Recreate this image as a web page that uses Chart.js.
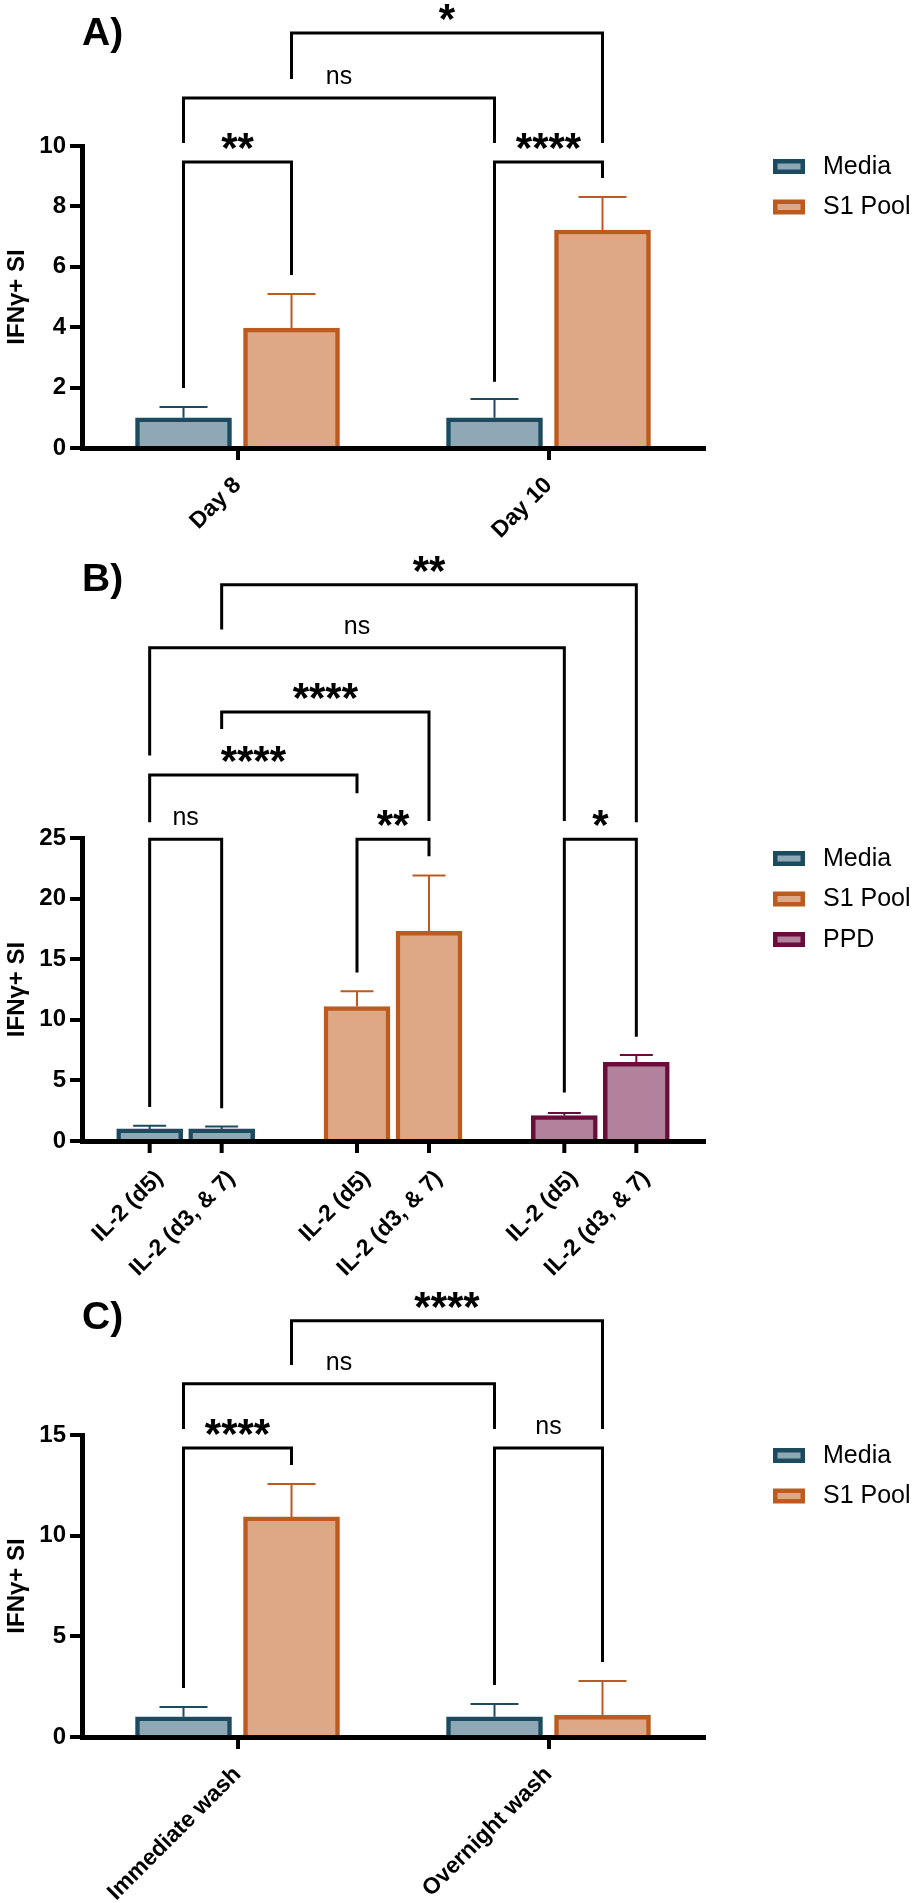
<!DOCTYPE html>
<html><head><meta charset="utf-8">
<script src="https://cdn.jsdelivr.net/npm/chart.js@4.4.1/dist/chart.umd.min.js"></script>
<style>
html,body{margin:0;padding:0;background:#fff;}
#wrap{position:relative;width:916px;height:1903px;overflow:hidden;background:#fff;}
canvas{position:absolute;left:0;}
</style></head>
<body><div id="wrap">
<canvas id="cA" width="916" height="550" style="top:0px;width:916px;height:550px"></canvas>
<canvas id="cB" width="916" height="738" style="top:550px;width:916px;height:738px"></canvas>
<canvas id="cC" width="916" height="615" style="top:1288px;width:916px;height:615px"></canvas>
</div>
<script>
// ---------------- DATA ----------------
// Panel A
const categoriesA = ['Day 8', 'Day 10'];
const mediaA = [1.0, 1.0];
const mediaErrA = [0.36, 0.62];
const s1A = [3.97, 7.22];
const s1ErrA = [1.13, 1.09];
const yTicksA = [0, 2, 4, 6, 8, 10];
// brackets: [datasetIndex, dataIndex] ends, bracket level, leg end levels, label
const bracketsA = [
  {a: [0, 0], b: [1, 0], level: 9.47, legs: [1.99, 5.73], text: '**'},
  {a: [0, 1], b: [1, 1], level: 9.47, legs: [2.19, 8.94], text: '****'},
  {a: [0, 0], b: [0, 1], level: 11.59, legs: [10.1, 10.1], text: 'ns'},
  {a: [1, 0], b: [1, 1], level: 13.74, legs: [12.22, 10.1], text: '*'}
];

// Panel B
const groupsB = ['Media', 'S1 Pool', 'PPD'];
const il2LabelsB = ['IL-2 (d5)', 'IL-2 (d3, & 7)'];
const il2d5B = [1.0, 11.1, 2.1];
const il2d5ErrB = [0.25, 1.25, 0.2];
const il2d37B = [1.0, 17.3, 6.5];
const il2d37ErrB = [0.2, 4.6, 0.6];
const yTicksB = [0, 5, 10, 15, 20, 25];
const bracketsB = [
  {a: [0, 0], b: [1, 0], level: 24.9, legs: [2.8, 2.7], text: 'ns'},
  {a: [0, 1], b: [1, 1], level: 24.9, legs: [13.9, 23.5], text: '**'},
  {a: [0, 2], b: [1, 2], level: 24.9, legs: [4.0, 8.6], text: '*'},
  {a: [0, 0], b: [0, 1], level: 30.2, legs: [26.3, 28.7], text: '****'},
  {a: [1, 0], b: [1, 1], level: 35.4, legs: [34.0, 26.4], text: '****'},
  {a: [0, 0], b: [0, 2], level: 40.7, legs: [31.8, 26.4], text: 'ns'},
  {a: [1, 0], b: [1, 2], level: 45.9, legs: [42.2, 26.3], text: '**'}
];

// Panel C
const categoriesC = ['Immediate wash', 'Overnight wash'];
const mediaC = [1.0, 1.0];
const mediaErrC = [0.49, 0.64];
const s1C = [10.93, 1.08];
const s1ErrC = [1.64, 1.7];
const yTicksC = [0, 5, 10, 15];
const bracketsC = [
  {a: [0, 0], b: [1, 0], level: 14.36, legs: [2.43, 13.51], text: '****'},
  {a: [0, 1], b: [1, 1], level: 14.36, legs: [2.58, 3.73], text: 'ns'},
  {a: [0, 0], b: [0, 1], level: 17.54, legs: [15.3, 15.3], text: 'ns'},
  {a: [1, 0], b: [1, 1], level: 20.67, legs: [18.48, 15.3], text: '****'}
];

const yTitle = 'IFNγ+ SI';

// ---------------- STYLE ----------------
const FONT = '"Liberation Sans", Arial, Helvetica, sans-serif';
Chart.defaults.font.family = FONT;
Chart.defaults.color = '#000';
const COL = {
  media: {fill: '#8ea8b5', line: '#1c4b5f'},
  s1: {fill: '#dea886', line: '#bd5b1e'},
  ppd: {fill: '#b2819b', line: '#6a0d3b'}
};
const XFONT = 23, XPAD = 12;

const gpPlugin = {
  id: 'gp',
  afterDatasetsDraw(chart) {
    const ctx = chart.ctx, ys = chart.scales.y;
    chart.data.datasets.forEach((ds, di) => {
      if (!ds.errors) return;
      chart.getDatasetMeta(di).data.forEach((bar, i) => {
        const v = ds.data[i], e = ds.errors[i];
        if (v == null || e == null) return;
        const col = Array.isArray(ds.borderColor) ? ds.borderColor[i] : ds.borderColor;
        const half = bar.width / 4;
        const y0 = ys.getPixelForValue(v), y1 = ys.getPixelForValue(v + e);
        ctx.save();
        ctx.strokeStyle = col; ctx.lineWidth = 2;
        ctx.beginPath();
        ctx.moveTo(bar.x, y0); ctx.lineTo(bar.x, y1);
        ctx.moveTo(bar.x - half, y1); ctx.lineTo(bar.x + half, y1);
        ctx.stroke();
        ctx.restore();
      });
    });
  },
  afterDraw(chart, args, opts) {
    const ctx = chart.ctx, ys = chart.scales.y, area = chart.chartArea;
    const px = ref => chart.getDatasetMeta(ref[0]).data[ref[1]].x;
    // per-bar axis labels (panel B)
    if (opts.barLabels) {
      ctx.save();
      const lh = XFONT * 1.2;
      ctx.font = 'bold ' + XFONT + 'px ' + FONT;
      ctx.fillStyle = '#000'; ctx.strokeStyle = '#000';
      chart.data.datasets.forEach((ds, di) => {
        chart.getDatasetMeta(di).data.forEach(bar => {
          ctx.lineWidth = 4;
          ctx.beginPath();
          ctx.moveTo(bar.x, area.bottom); ctx.lineTo(bar.x, area.bottom + 12);
          ctx.stroke();
          ctx.save();
          ctx.translate(bar.x, area.bottom + 12 + XPAD);
          ctx.rotate(-Math.PI / 4);
          ctx.textAlign = 'right'; ctx.textBaseline = 'middle';
          ctx.fillText(opts.barLabels[di], 0, lh / 2);
          ctx.restore();
        });
      });
      ctx.restore();
    }
    // significance brackets
    (opts.brackets || []).forEach(br => {
      const xa = px(br.a), xb = px(br.b);
      const yl = ys.getPixelForValue(br.level);
      ctx.save();
      ctx.strokeStyle = '#000'; ctx.lineWidth = 3;
      ctx.lineJoin = 'miter'; ctx.lineCap = 'butt';
      ctx.beginPath();
      ctx.moveTo(xa, ys.getPixelForValue(br.legs[0]));
      ctx.lineTo(xa, yl); ctx.lineTo(xb, yl);
      ctx.lineTo(xb, ys.getPixelForValue(br.legs[1]));
      ctx.stroke();
      const star = /^\*+$/.test(br.text);
      ctx.font = star ? ('bold 42px ' + FONT) : ('25px ' + FONT);
      const m = ctx.measureText(br.text);
      const c = (m.actualBoundingBoxAscent - m.actualBoundingBoxDescent) / 2;
      ctx.fillStyle = '#000';
      ctx.textAlign = 'center'; ctx.textBaseline = 'alphabetic';
      ctx.fillText(br.text, (xa + xb) / 2, yl - 21 + c);
      ctx.restore();
    });
    // legend
    if (opts.legend) {
      ctx.save();
      ctx.font = '25px ' + FONT;
      ctx.textAlign = 'left'; ctx.textBaseline = 'middle';
      opts.legend.forEach((it, i) => {
        const x = area.right + 69, y = area.top + 13 + i * 40.5;
        ctx.fillStyle = it.line; ctx.fillRect(x, y, 32, 15);
        ctx.fillStyle = it.fill; ctx.fillRect(x + 4.5, y + 4.5, 23, 6);
        ctx.fillStyle = '#000';
        ctx.fillText(it.label, x + 50, y + 8);
      });
      ctx.restore();
    }
  }
};

function axisCommon() {
  return {
    grid: {display: true, drawOnChartArea: false, drawTicks: true, tickLength: 12, lineWidth: 4, color: '#000', offset: false},
    border: {display: true, width: 5, color: '#000'}
  };
}

function makeOptions(p) {
  const yc = axisCommon(), xc = axisCommon();
  return {
    responsive: false, animation: false,
    layout: {padding: {left: 0, right: 212, top: 0, bottom: 0}},
    plugins: {
      legend: {display: false}, tooltip: {enabled: false},
      title: {display: true, text: p.title, align: 'start', fullSize: false, color: '#000',
        font: {family: FONT, size: 39, weight: 'bold'}, padding: {top: p.titleTop, bottom: p.titleBottom}},
      gp: {brackets: p.brackets, legend: p.legend, barLabels: p.barLabels}
    },
    scales: {
      x: Object.assign(xc, {
        type: 'category', offset: true,
        grid: Object.assign(xc.grid, {display: !p.barLabels}),
        ticks: {display: !p.barLabels, color: '#000', font: {family: FONT, size: XFONT, weight: 'bold'},
          minRotation: 45, maxRotation: 45, padding: XPAD, autoSkip: false},
        afterFit: s => { s.height = p.xHeight; }
      }),
      y: Object.assign(yc, {
        min: p.yTicks[0], max: p.yTicks[p.yTicks.length - 1],
        afterBuildTicks: s => { s.ticks = p.yTicks.map(v => ({value: v})); },
        ticks: {color: '#000', font: {family: FONT, size: 24, weight: 'bold'}, padding: 4},
        title: {display: true, text: yTitle, color: '#000', font: {family: FONT, size: 24, weight: 'bold'}, padding: {top: 3, bottom: 3}},
        afterFit: s => { s.width = 82; }
      })
    }
  };
}

function barDs(label, data, errors, fill, line, thick, maxThick) {
  return {label, data, errors, backgroundColor: fill, borderColor: line, borderWidth: 4.5,
    borderSkipped: 'start', barThickness: thick, maxBarThickness: maxThick};
}

// Panel A
new Chart(document.getElementById('cA'), {
  type: 'bar',
  data: {labels: categoriesA, datasets: [
    barDs('Media', mediaA, mediaErrA, COL.media.fill, COL.media.line, 108, 96),
    barDs('S1 Pool', s1A, s1ErrA, COL.s1.fill, COL.s1.line, 108, 96)
  ]},
  options: makeOptions({title: 'A)', titleTop: 10.6, titleBottom: 88.6, xHeight: 102, yTicks: yTicksA,
    brackets: bracketsA,
    legend: [{label: 'Media', fill: COL.media.fill, line: COL.media.line},
             {label: 'S1 Pool', fill: COL.s1.fill, line: COL.s1.line}]}),
  plugins: [gpPlugin]
});

// Panel B
const fillsB = [COL.media.fill, COL.s1.fill, COL.ppd.fill];
const linesB = [COL.media.line, COL.s1.line, COL.ppd.line];
new Chart(document.getElementById('cB'), {
  type: 'bar',
  data: {labels: groupsB, datasets: [
    barDs(il2LabelsB[0], il2d5B, il2d5ErrB, fillsB, linesB, 72, 66),
    barDs(il2LabelsB[1], il2d37B, il2d37ErrB, fillsB, linesB, 72, 66)
  ]},
  options: makeOptions({title: 'B)', titleTop: 6.6, titleBottom: 234.6, xHeight: 147, yTicks: yTicksB,
    brackets: bracketsB, barLabels: il2LabelsB,
    legend: groupsB.map((g, i) => ({label: g, fill: fillsB[i], line: linesB[i]}))}),
  plugins: [gpPlugin]
});

// Panel C
new Chart(document.getElementById('cC'), {
  type: 'bar',
  data: {labels: categoriesC, datasets: [
    barDs('Media', mediaC, mediaErrC, COL.media.fill, COL.media.line, 108, 96),
    barDs('S1 Pool', s1C, s1ErrC, COL.s1.fill, COL.s1.line, 108, 96)
  ]},
  options: makeOptions({title: 'C)', titleTop: 6.6, titleBottom: 93.6, xHeight: 166, yTicks: yTicksC,
    brackets: bracketsC,
    legend: [{label: 'Media', fill: COL.media.fill, line: COL.media.line},
             {label: 'S1 Pool', fill: COL.s1.fill, line: COL.s1.line}]}),
  plugins: [gpPlugin]
});
</script>
</body></html>
